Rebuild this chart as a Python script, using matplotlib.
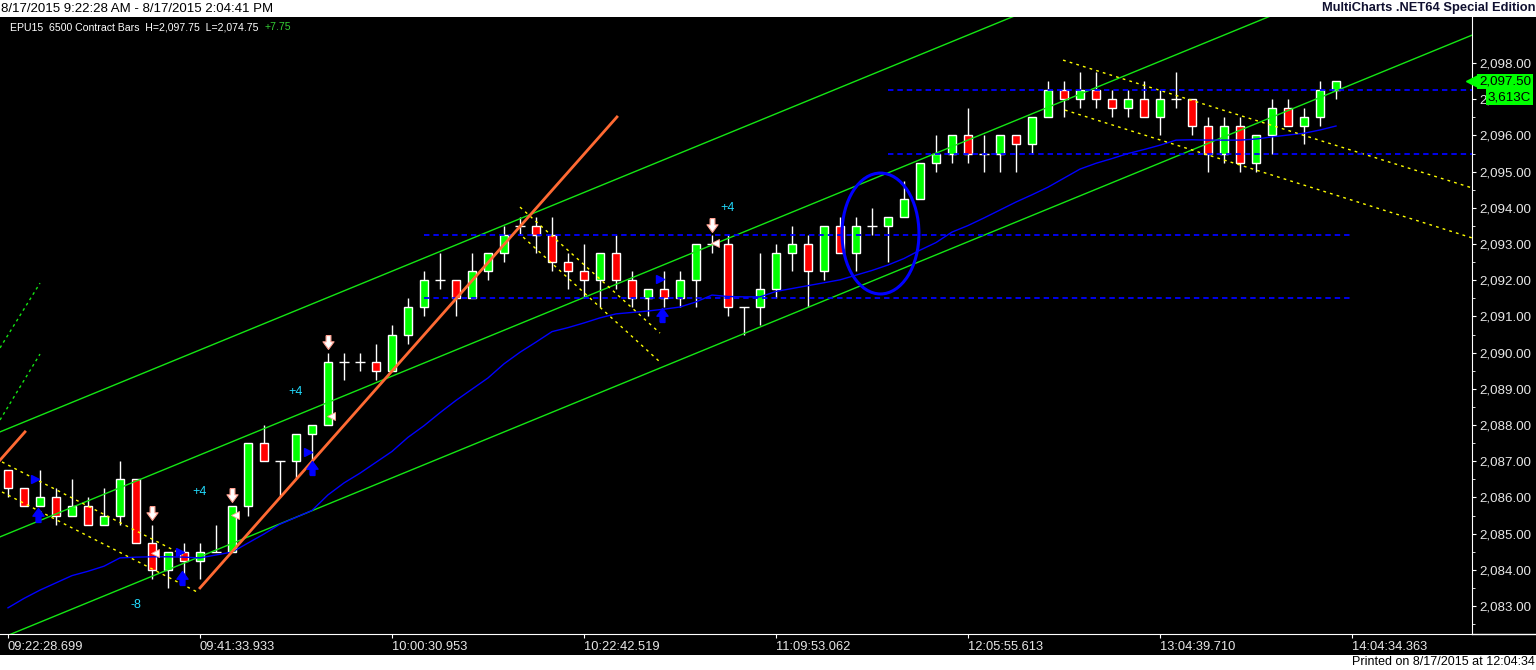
import numpy as np
import matplotlib.pyplot as plt
from matplotlib.patches import Ellipse, Rectangle
from matplotlib.path import Path
from matplotlib.lines import Line2D

plt.rcParams['font.family'] = ['Liberation Sans', 'DejaVu Sans']

# 6500 contract bars, EPU15, 8/17/2015
opens = [2086.75, 2086.25, 2085.75, 2086.0, 2085.5, 2085.75, 2085.25, 2085.5, 2086.5, 2084.75,
         2084.0, 2084.5, 2084.25, 2084.5, 2084.5, 2085.75, 2087.5, 2087.0, 2087.0, 2087.75,
         2088.0, 2089.75, 2089.75, 2089.75, 2089.5, 2090.5, 2091.25, 2092.0, 2092.0, 2091.5,
         2092.25, 2092.75, 2093.5, 2093.5, 2093.25, 2092.5, 2092.25, 2092.0, 2092.75, 2092.0,
         2091.5, 2091.75, 2091.5, 2092.0, 2093.0, 2093.0, 2091.25, 2091.25, 2091.75, 2092.75,
         2093.0, 2092.25, 2093.5, 2092.75, 2093.5, 2093.5, 2093.75, 2094.25, 2095.25, 2095.5,
         2096.0, 2095.5, 2095.5, 2096.0, 2095.75, 2096.5, 2097.25, 2097.0, 2097.25, 2097.0,
         2096.75, 2097.0, 2096.5, 2097.0, 2097.0, 2096.25, 2095.5, 2096.25, 2095.25, 2096.0,
         2096.75, 2096.25, 2096.5, 2097.25]
highs = [2086.75, 2086.25, 2086.75, 2086.25, 2086.5, 2086.0, 2086.25, 2087.0, 2086.5, 2085.25,
         2084.5, 2084.75, 2084.75, 2085.25, 2085.75, 2087.5, 2088.0, 2087.0, 2087.75, 2088.0,
         2090.0, 2090.0, 2090.0, 2090.25, 2090.75, 2091.5, 2092.25, 2092.75, 2092.0, 2092.75,
         2092.75, 2093.5, 2093.75, 2093.75, 2093.75, 2092.75, 2093.0, 2092.75, 2093.25, 2092.25,
         2091.75, 2092.25, 2092.25, 2093.0, 2093.25, 2093.25, 2091.25, 2092.75, 2093.0, 2093.5,
         2093.25, 2093.5, 2093.75, 2093.75, 2094.0, 2093.75, 2094.75, 2095.25, 2096.0, 2096.0,
         2096.75, 2096.0, 2096.0, 2096.0, 2096.5, 2097.5, 2097.5, 2097.75, 2097.75, 2097.25,
         2097.25, 2097.5, 2097.25, 2097.75, 2097.0, 2096.5, 2096.5, 2096.5, 2096.0, 2097.0,
         2097.0, 2096.75, 2097.5, 2097.5]
lows = [2086.0, 2085.75, 2085.75, 2085.25, 2085.5, 2085.25, 2085.25, 2085.25, 2084.75, 2083.75,
        2083.5, 2083.75, 2083.75, 2084.5, 2084.5, 2085.5, 2087.0, 2086.0, 2086.5, 2087.0,
        2088.0, 2089.25, 2089.5, 2089.25, 2089.5, 2090.25, 2091.0, 2091.75, 2091.0, 2091.5,
        2092.0, 2092.5, 2093.25, 2092.75, 2092.25, 2091.75, 2091.5, 2091.25, 2091.75, 2091.25,
        2091.0, 2091.25, 2091.25, 2091.25, 2092.75, 2091.0, 2090.5, 2090.75, 2091.5, 2092.25,
        2091.25, 2092.0, 2092.75, 2092.25, 2093.25, 2092.5, 2093.75, 2094.25, 2095.0, 2095.25,
        2095.25, 2095.0, 2095.0, 2095.0, 2095.5, 2096.5, 2096.5, 2096.75, 2096.75, 2096.5,
        2096.5, 2096.5, 2096.0, 2096.75, 2096.0, 2095.0, 2095.25, 2095.0, 2095.0, 2095.5,
        2096.25, 2095.75, 2096.25, 2097.0]
closes = [2086.25, 2085.75, 2086.0, 2085.5, 2085.75, 2085.25, 2085.5, 2086.5, 2084.75, 2084.0,
          2084.5, 2084.25, 2084.5, 2084.5, 2085.75, 2087.5, 2087.0, 2087.0, 2087.75, 2088.0,
          2089.75, 2089.75, 2089.75, 2089.5, 2090.5, 2091.25, 2092.0, 2092.0, 2091.5, 2092.25,
          2092.75, 2093.25, 2093.5, 2093.25, 2092.5, 2092.25, 2092.0, 2092.75, 2092.0, 2091.5,
          2091.75, 2091.5, 2092.0, 2093.0, 2093.0, 2091.25, 2091.25, 2091.75, 2092.75, 2093.0,
          2092.25, 2093.5, 2092.75, 2093.5, 2093.5, 2093.75, 2094.25, 2095.25, 2095.5, 2096.0,
          2095.5, 2095.5, 2096.0, 2095.75, 2096.5, 2097.25, 2097.0, 2097.25, 2097.0, 2096.75,
          2097.0, 2096.5, 2097.0, 2097.0, 2096.25, 2095.5, 2096.25, 2095.25, 2096.0, 2096.75,
          2096.25, 2096.5, 2097.25, 2097.5]

# blue moving average, one value per bar
ma = [2082.95, 2083.21, 2083.44, 2083.64, 2083.84, 2083.96, 2084.10, 2084.33, 2084.35, 2084.36,
      2084.36, 2084.35, 2084.33, 2084.41, 2084.49, 2084.74, 2084.99, 2085.26, 2085.45, 2085.64,
      2086.07, 2086.40, 2086.67, 2086.97, 2087.27, 2087.66, 2087.98, 2088.34, 2088.68, 2088.99,
      2089.30, 2089.69, 2090.01, 2090.29, 2090.58, 2090.69, 2090.82, 2090.96, 2091.07, 2091.11,
      2091.15, 2091.20, 2091.26, 2091.40, 2091.59, 2091.55, 2091.54, 2091.54, 2091.69, 2091.77,
      2091.85, 2091.93, 2092.01, 2092.14, 2092.27, 2092.42, 2092.60, 2092.83, 2093.04, 2093.33,
      2093.51, 2093.72, 2093.94, 2094.16, 2094.36, 2094.57, 2094.82, 2095.07, 2095.23, 2095.36,
      2095.50, 2095.61, 2095.73, 2095.87, 2095.88, 2095.87, 2095.87, 2095.87, 2095.90, 2095.96,
      2096.01, 2096.06, 2096.15, 2096.26]

time_ticks = [0, 12, 24, 36, 48, 60, 72, 84]
time_labels = ['09:22:28.699', '09:41:33.933', '10:00:30.953', '10:22:42.519',
               '11:09:53.062', '12:05:55.613', '13:04:39.710', '14:04:34.363']
price_ticks = [2083, 2084, 2085, 2086, 2087, 2088, 2089, 2090, 2091, 2092, 2093, 2094,
               2095, 2096, 2097, 2098]

# drawing tools: (bar start, bar end), (price start, price end)
channel_bars = [-0.5, 91.5]
channel_upper = [2087.81, 2104.48]
channel_mid = [2084.91, 2101.58]
channel_lower = [2082.10, 2098.77]
green_dash_bars = [-0.5, 2.0]
green_dash_a = [2090.13, 2091.92]
green_dash_b = [2088.14, 2089.96]
orange_bars = [12, 38.06]
orange_prices = [2083.5, 2096.51]
orange2_bars = [-0.5, 1.06]
orange2_prices = [2087.03, 2087.81]
yellow_lines = [
    ([-0.375, 10.94], [2086.98, 2084.41]),
    ([-0.375, 11.81], [2086.15, 2083.39]),
    ([32.0, 40.75], [2094.02, 2090.54]),
    ([32.2, 40.75], [2093.19, 2089.74]),
    ([65.94, 91.5], [2098.08, 2094.55]),
    ([66.06, 91.5], [2096.70, 2093.17]),
]
hlines = [(2093.25, 26, 84), (2091.5, 26, 84), (2097.25, 55, 91.5), (2095.5, 55, 91.5)]

sell_bars = [9, 14, 20, 44]
sell_prices = [2085.57, 2086.07, 2090.29, 2093.52]
buy_bars = [1.9, 10.9, 19, 40.9]
buy_prices = [2085.51, 2083.77, 2086.81, 2091.04]
blue_tri_bars = [1.7, 10.75, 18.75, 40.75]
blue_tri_prices = [2086.51, 2084.49, 2087.25, 2092.03]
white_tri_bars = [9.2, 14.2, 20.2, 44.2]
white_tri_prices = [2084.46, 2085.51, 2088.25, 2093.03]
tag_bars = [12, 18, 45, 8]
tag_prices = [2086.15, 2088.91, 2094.0, 2083.03]
tag_texts = ['+4', '+4', '+4', '-8']

ellipse_center = (54.53, 2093.29)
ellipse_w, ellipse_h = 4.81, 3.34

W, H = 1536, 670
fig = plt.figure(figsize=(W / 100, H / 100), dpi=100, facecolor='white')
fig.patches.append(Rectangle((0, 15 / H), 1, 638 / H, transform=fig.transFigure,
                             facecolor='black', edgecolor='none', zorder=-10))
ax = fig.add_axes([0, 36 / H, 1472 / W, 617 / H])
ax.set_zorder(1)
ax.set_facecolor('black')
ax.set_xlim(-0.5, 91.5)
ax.set_ylim(2082.227, 2099.271)

o = np.array(opens); h = np.array(highs); l = np.array(lows); c = np.array(closes)
x = np.arange(len(o))
up = c > o
dn = c < o
dj = c == o
ax.vlines(x, l, h, color='white', lw=1, zorder=2)
ax.bar(x[up], (c - o)[up], bottom=o[up], width=0.56, color='#00ff00',
       edgecolor='white', lw=1, zorder=3)
ax.bar(x[dn], (o - c)[dn], bottom=c[dn], width=0.56, color='#ff0000',
       edgecolor='white', lw=1, zorder=3)
ax.hlines(o[dj], x[dj] - 0.3, x[dj] + 0.3, color='white', lw=1, zorder=3)

# channel lines
for ys in (channel_upper, channel_mid, channel_lower):
    ax.plot(channel_bars, ys, color='#14e614', lw=1, zorder=4)
for ys in (green_dash_a, green_dash_b):
    ax.plot(green_dash_bars, ys, color='#14e614', lw=1, ls=(0, (2, 2.5)), zorder=4)

ax.plot(x, ma, color='#0000ff', lw=1, zorder=5)

for bx, py in yellow_lines:
    ax.plot(bx, py, color='#ffff00', lw=1, ls=(0, (2, 3)), zorder=5)

for price, b0, b1 in hlines:
    ax.plot([b0, b1], [price, price], color='#0000ff', lw=1.3, ls=(0, (3, 2.2)), zorder=5)

ax.plot(orange_bars, orange_prices, color='#ff6a33', lw=2, zorder=6)
ax.plot(orange2_bars, orange2_prices, color='#ff6a33', lw=2, zorder=6)

ax.add_patch(Ellipse(ellipse_center, ellipse_w, ellipse_h, fill=False,
                     edgecolor='#0000ff', lw=2.2, zorder=6))

# arrows
down_arrow = Path([(-0.35, 1), (0.35, 1), (0.35, 0.1), (0.8, 0.1), (0, -1),
                   (-0.8, 0.1), (-0.35, 0.1), (-0.35, 1)])
up_arrow = Path([(-0.35, -1), (0.35, -1), (0.35, -0.1), (0.8, -0.1), (0, 1),
                 (-0.8, -0.1), (-0.35, -0.1), (-0.35, -1)])
ax.plot(sell_bars, sell_prices, ls='none', marker=down_arrow, ms=10,
        mfc='white', mec='#ff9f90', mew=0.8, zorder=7)
ax.plot(buy_bars, buy_prices, ls='none', marker=up_arrow, ms=10,
        mfc='#0000ff', mec='#0000ff', zorder=7)
ax.plot(blue_tri_bars, blue_tri_prices, ls='none', marker='>', ms=5.5,
        mfc='#0000ff', mec='#0000ff', zorder=7)
ax.plot(white_tri_bars, white_tri_prices, ls='none', marker='<', ms=5.5,
        mfc='white', mec='#ff9f90', mew=0.6, zorder=7)

for bx, py, t in zip(tag_bars, tag_prices, tag_texts):
    ax.text(bx, py, t, color='#22dcff', fontsize=9, ha='center', va='center', zorder=7)

# axes styling
for s in ('top', 'left'):
    ax.spines[s].set_visible(False)
ax.spines['right'].set_color('white')
ax.spines['bottom'].set_color('white')
fig.add_artist(Line2D([1472 / W, 1], [36 / H, 36 / H], color='white', lw=1,
                      transform=fig.transFigure))

ax.set_xticks(time_ticks)
ax.set_xticklabels(time_labels)
for t in ax.get_xticklabels():
    t.set_ha('left')
ax.tick_params(axis='x', colors='white', labelcolor='#e6e6e6', length=3,
               labelsize=9.3, pad=2)
ax.yaxis.tick_right()
ax.set_yticks(price_ticks)
ax.set_yticklabels([f'{v:,.2f}' for v in price_ticks])
ax.set_yticks([v + 0.5 for v in price_ticks[:-1]] + [2082.5], minor=True)
ax.tick_params(axis='y', which='major', colors='white', labelcolor='#e6e6e6',
               length=3, labelsize=9.6, pad=2.5)
ax.tick_params(axis='y', which='minor', colors='white', length=2)

# last price labels on the price axis
last = closes[-1]
ax.plot([1.0], [last], transform=ax.get_yaxis_transform(), marker='<', ms=8,
        color='#00ff00', clip_on=False, zorder=8)
ax.annotate(f'{last:,.2f}', xy=(1, last), xycoords=('axes fraction', 'data'),
            xytext=(5, 0), textcoords='offset points', ha='left', va='center',
            fontsize=9.6, color='black', zorder=9, annotation_clip=False,
            bbox=dict(boxstyle='square,pad=0.12', fc='#00ff00', ec='none'))
ax.annotate('3,613C', xy=(1, last), xycoords=('axes fraction', 'data'),
            xytext=(11.5, -11.5), textcoords='offset points', ha='left', va='center',
            fontsize=9.6, color='black', zorder=9, annotation_clip=False,
            bbox=dict(boxstyle='square,pad=0.12', fc='#00ff00', ec='none'))

# header / footer text
fig.text(1 / W, 1 - 8.5 / H, '8/17/2015 9:22:28 AM - 8/17/2015 2:04:41 PM',
         ha='left', va='center', fontsize=9.5, color='black')
fig.text(1535 / W, 1 - 8.5 / H, 'MultiCharts .NET64 Special Edition',
         ha='right', va='center', fontsize=9.3, fontweight='bold', color='#101030')
fig.text(10 / W, 1 - 27 / H, 'EPU15  6500 Contract Bars  H=2,097.75  L=2,074.75',
         ha='left', va='center', fontsize=7.6, color='white')
fig.text(265 / W, 1 - 27 / H, '+7.75', ha='left', va='center', fontsize=7.6,
         color='#33cc33')
fig.text(1535 / W, 1 - 662 / H, 'Printed on 8/17/2015 at 12:04:34',
         ha='right', va='center', fontsize=9, color='black')

fig.savefig('out.png', dpi=100, facecolor='white')
